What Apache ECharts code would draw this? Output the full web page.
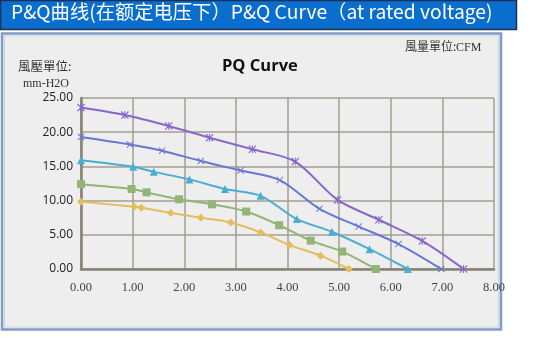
<!DOCTYPE html>
<html>
<head>
<meta charset="utf-8">
<script src="https://cdn.jsdelivr.net/npm/echarts@6/dist/echarts.min.js"></script>
<style>
  html, body { margin: 0; padding: 0; background: #ffffff; }
  #chart { width: 544px; height: 343px; }
</style>
</head>
<body>
<div id="chart"></div>
<script>
// Air flow (CFM) and static pressure (mm-H2O) for each fan curve
const flowA = [0, 0.85, 1.70, 2.49, 3.32, 4.15, 4.97, 5.77, 6.61, 7.41];
const pressureA = [23.6, 22.5, 20.9, 19.2, 17.5, 15.7, 10.1, 7.2, 4.1, 0];

const flowB = [0, 0.95, 1.57, 2.32, 3.09, 3.85, 4.62, 5.38, 6.15, 6.98];
const pressureB = [19.3, 18.2, 17.3, 15.8, 14.4, 13.0, 8.8, 6.2, 3.65, 0];

const flowC = [0, 1.01, 1.41, 2.10, 2.79, 3.48, 4.18, 4.86, 5.59, 6.33];
const pressureC = [15.9, 14.95, 14.2, 13.1, 11.7, 10.7, 7.3, 5.45, 2.9, 0];

const flowD = [0, 0.98, 1.27, 1.90, 2.54, 3.20, 3.84, 4.45, 5.06, 5.71];
const pressureD = [12.4, 11.7, 11.2, 10.2, 9.45, 8.4, 6.4, 4.15, 2.55, 0];

const flowE = [0, 1.03, 1.17, 1.74, 2.32, 2.90, 3.48, 4.04, 4.64, 5.19];
const pressureE = [9.85, 9.1, 8.95, 8.2, 7.5, 6.8, 5.35, 3.5, 1.95, 0];

const xTicks = [0, 1, 2, 3, 4, 5, 6, 7, 8];
const yTicks = [0, 5, 10, 15, 20, 25];

const zip = (xs, ys) => xs.map((x, i) => [x, ys[i]]);

// Marker shapes: asterisk and cross
const crossPath = 'path://M0,1L1,0L5,4L9,0L10,1L6,5L10,9L9,10L5,6L1,10L0,9L4,5Z';
const asteriskPath = 'path://M0,1L1,0L5,4L9,0L10,1L6,5L10,9L9,10L5,6L1,10L0,9L4,5ZM4.4,0L5.6,0L5.6,10L4.4,10Z';

const curves = [
  { data: zip(flowA, pressureA), color: '#8866CC', symbol: asteriskPath, size: 8 },
  { data: zip(flowB, pressureB), color: '#6677D6', symbol: crossPath, size: 7 },
  { data: zip(flowC, pressureC), color: '#4AAED2', symbol: 'triangle', size: 8 },
  { data: zip(flowD, pressureD), color: '#92B474', symbol: 'rect', size: 8 },
  { data: zip(flowE, pressureE), color: '#E2BE5C', symbol: 'diamond', size: 8 }
];

const chart = echarts.init(document.getElementById('chart'));

chart.setOption({
  animation: false,
  graphic: [
    // header banner
    { type: 'rect', shape: { x: 0.5, y: 0.5, width: 516, height: 29 },
      style: { fill: '#0A6ECF', stroke: '#1B2E55', lineWidth: 1.5 }, z: 0 },
    { type: 'text', left: 11, top: 2,
      style: { text: 'P&Q曲线(在额定电压下）P&Q Curve（at rated voltage)',
        fill: '#ffffff', font: '19.3px "Noto Sans CJK SC", "Noto Sans", sans-serif' }, z: 1 },
    // chart panel
    { type: 'rect', shape: { x: 2, y: 33.5, width: 499, height: 296 },
      style: { fill: '#EEEEEE', stroke: '#7F9CC2', lineWidth: 2.5 }, z: 0 },
    { type: 'rect', shape: { x: 4.5, y: 36, width: 494, height: 291 },
      style: { fill: 'none', stroke: '#C9D6E6', lineWidth: 1 }, z: 0 },
    { type: 'text', left: 18, top: 60,
      style: { text: '風壓單位:', fill: '#333333',
        font: '12.5px "Noto Sans CJK TC", serif' }, z: 1 },
    { type: 'text', left: 23, top: 78,
      style: { text: 'mm-H2O', fill: '#333333',
        font: '12px "Liberation Serif", serif' }, z: 1 },
    { type: 'text', left: 405, top: 40,
      style: { text: '風量單位:', fill: '#333333',
        font: '12px "Noto Sans CJK TC", serif' }, z: 1 },
    { type: 'text', left: 456, top: 42,
      style: { text: 'CFM', fill: '#333333',
        font: '12px "Liberation Serif", serif' }, z: 1 },
    { type: 'text', left: 222, top: 58,
      style: { text: 'PQ Curve', fill: '#111111',
        font: 'bold 16.5px "Open Sans", "Noto Sans", sans-serif' }, z: 1 }
  ],
  grid: {
    left: 81, top: 98, right: 50, bottom: 74,
    show: true,
    borderColor: '#8C887C', borderWidth: 2,
    backgroundColor: new echarts.graphic.LinearGradient(0, 0, 1, 1, [
      { offset: 0, color: '#FDF0D6' },
      { offset: 0.55, color: '#F6EBD2' },
      { offset: 1, color: '#DCCFAE' }
    ])
  },
  xAxis: {
    type: 'value', min: xTicks[0], max: xTicks[xTicks.length - 1], interval: 1,
    axisLine: { show: true, lineStyle: { color: '#858175', width: 2.5 } },
    axisTick: { show: false },
    splitLine: { show: true, lineStyle: { color: '#A39E90', width: 1.5 } },
    axisLabel: {
      margin: 12, color: '#444444',
      fontFamily: '"Liberation Serif", serif', fontSize: 12.5,
      formatter: v => v.toFixed(2)
    }
  },
  yAxis: {
    type: 'value', min: yTicks[0], max: yTicks[yTicks.length - 1], interval: 5,
    axisLine: { show: true, lineStyle: { color: '#858175', width: 2.5 } },
    axisTick: { show: false },
    splitLine: { show: true, lineStyle: { color: '#A39E90', width: 1.5 } },
    axisLabel: {
      margin: 8, color: '#222222',
      fontFamily: '"Open Sans", "Noto Sans", sans-serif', fontSize: 12,
      formatter: v => v.toFixed(2)
    }
  },
  series: curves.map(c => ({
    type: 'line',
    data: c.data,
    smooth: 0.3,
    symbol: c.symbol,
    symbolSize: c.size,
    showAllSymbol: true,
    lineStyle: { color: c.color, width: 2 },
    itemStyle: { color: c.color },
    z: 3
  }))
});
</script>
</body>
</html>
